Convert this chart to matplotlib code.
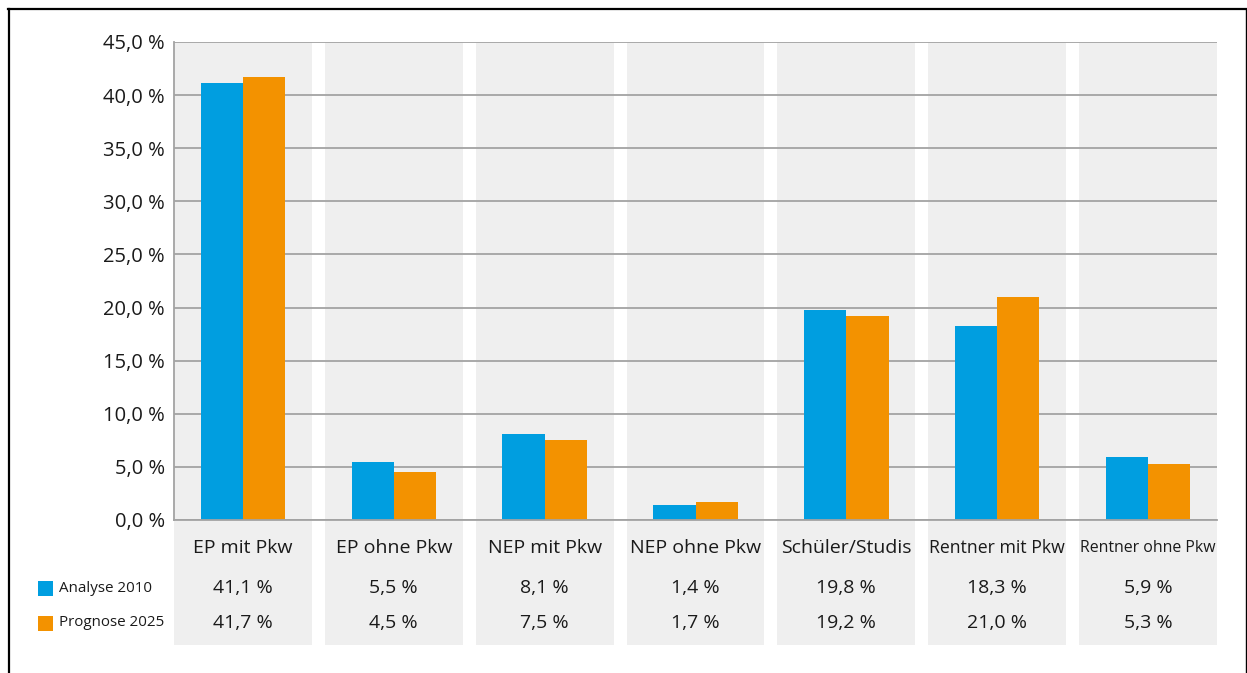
import matplotlib
matplotlib.use("Agg")
import matplotlib.pyplot as plt
import matplotlib.transforms as mtransforms
from matplotlib.patches import Rectangle
from matplotlib.lines import Line2D
import numpy as np

plt.rcParams['font.family'] = ['Open Sans', 'DejaVu Sans']

categories = ["EP mit Pkw", "EP ohne Pkw", "NEP mit Pkw", "NEP ohne Pkw",
              "Schüler/Studis", "Rentner mit Pkw", "Rentner ohne Pkw"]
series_names = ["Analyse 2010", "Prognose 2025"]
analyse_2010 = [41.1, 5.5, 8.1, 1.4, 19.8, 18.3, 5.9]
prognose_2025 = [41.7, 4.5, 7.5, 1.7, 19.2, 21.0, 5.3]
y_ticks = [0, 5, 10, 15, 20, 25, 30, 35, 40, 45]

BLUE = "#009ee0"
ORANGE = "#f39200"
BAND = "#efefef"
GRID = "#a3a3a3"
TXT = "#1a1a1a"

W, H = 1247, 673
fig = plt.figure(figsize=(W / 100, H / 100), dpi=100)

def fx(px):
    return px / W

def fy(py):
    return 1 - py / H

# plot area in pixels: x 174..1217, y 42..520
ax = fig.add_axes([fx(174), fy(520), fx(1217 - 174), (520 - 42) / H])
ax.patch.set_visible(False)

x = np.arange(len(categories))
half = 0.457
ax.set_xlim(-half, len(categories) - 1 + half)
ax.set_ylim(0, 45)

# grey column bands reaching down through the table
trans = mtransforms.blended_transform_factory(ax.transData, fig.transFigure)
for xi in x:
    ax.add_patch(Rectangle((xi - half, fy(645)), 2 * half, fy(42) - fy(645),
                           transform=trans, facecolor=BAND, edgecolor="none",
                           clip_on=False, zorder=0))

bw = 0.28
ax.bar(x - bw / 2, analyse_2010, bw, color=BLUE, zorder=2)
ax.bar(x + bw / 2, prognose_2025, bw, color=ORANGE, zorder=2)

ax.set_axisbelow(True)
ax.yaxis.grid(True, color=GRID, linewidth=1.3)
ax.set_yticks(y_ticks)
ax.set_yticklabels([("%.1f %%" % v).replace(".", ",") for v in y_ticks],
                   fontsize=14.5, color=TXT)
ax.tick_params(axis="y", length=0, pad=6.5)
ax.set_xticks([])
for s in ["top", "right"]:
    ax.spines[s].set_visible(False)
for s in ["left", "bottom"]:
    ax.spines[s].set_color(GRID)
    ax.spines[s].set_linewidth(1.3)

# table under the chart
fig.canvas.draw()
renderer = fig.canvas.get_renderer()
max_w = 136
for xi, name in zip(x, categories):
    t = ax.text(xi, fy(548), name, transform=trans, ha="center", va="center",
                fontsize=14, color=TXT)
    w = t.get_window_extent(renderer).width
    if w > max_w:
        t.set_fontsize(14 * max_w / w)

for row_y, vals in [(588, analyse_2010), (623, prognose_2025)]:
    for xi, v in zip(x, vals):
        ax.text(xi, fy(row_y), ("%.1f %%" % v).replace(".", ","),
                transform=trans, ha="center", va="center", fontsize=14, color=TXT)

legend_texts = []
for row_y, col, name in [(588, BLUE, series_names[0]), (623, ORANGE, series_names[1])]:
    fig.add_artist(Rectangle((fx(38), fy(row_y + 7.5)), fx(15), 15 / H,
                             facecolor=col, edgecolor="none"))
    legend_texts.append(fig.text(fx(59), fy(row_y), name, ha="left", va="center",
                                 fontsize=14, color=TXT))
widest = max(t.get_window_extent(renderer).width for t in legend_texts)
for t in legend_texts:
    t.set_fontsize(14 * min(1.0, 106 / widest))

# outer frame, open at the bottom
fig.add_artist(Line2D([fx(8), fx(1246)], [fy(9), fy(9)], color="black", lw=1.6))
fig.add_artist(Line2D([fx(9), fx(9)], [fy(9), fy(680)], color="black", lw=1.6))
fig.add_artist(Line2D([fx(1246), fx(1246)], [fy(9), fy(680)], color="black", lw=1.0))

fig.savefig("out.png", dpi=100)
